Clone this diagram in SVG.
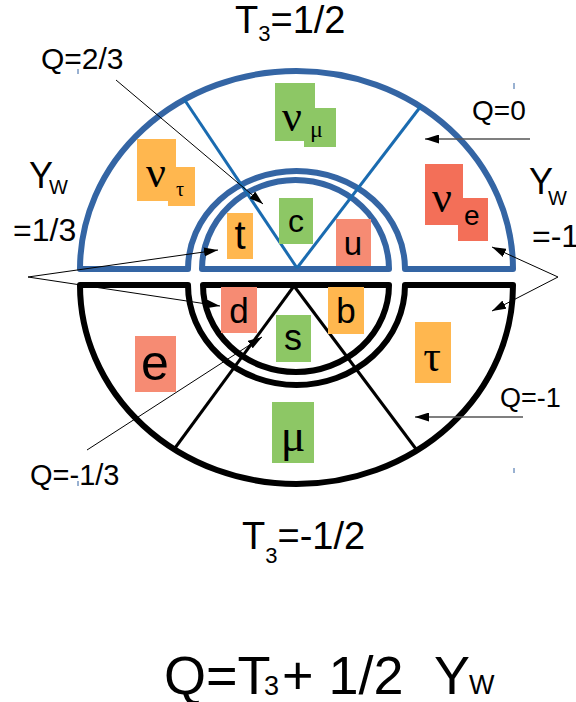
<svg xmlns="http://www.w3.org/2000/svg" width="576" height="702" viewBox="0 0 576 702">
<style>
.sans{font-family:"Liberation Sans",Arial,sans-serif;fill:#000}
.serif{font-family:"Liberation Serif","Times New Roman",serif;fill:#000}
.blue{fill:none;stroke:#3465a4;stroke-width:6;stroke-linejoin:round}
.black{fill:none;stroke:#000;stroke-width:6;stroke-linejoin:round}
.bray{stroke:#1a6bb0;stroke-width:3}
.kray{stroke:#000;stroke-width:3}
.arr{stroke:#000;stroke-width:1;fill:none;marker-end:url(#ah)}
.arrg{stroke:#555;stroke-width:1.6;fill:none;marker-end:url(#ah)}
.g{fill:#8dc765}.o{fill:#ffb74f}.s{fill:#f68b73}.r{fill:#f36f58}
.tick{stroke:#3465a4;stroke-width:1}
</style>
<defs>
<marker id="ah" markerUnits="userSpaceOnUse" markerWidth="15" markerHeight="9" refX="14" refY="4.5" orient="auto">
<path d="M0,0 L14,4.5 L0,9 z" fill="#000"/>
</marker>
</defs>
<rect width="576" height="702" fill="#fff"/>
<g id="upper-ring">
<path class="blue" d="M80,269 A216.5,198 0 0 1 513,269 L405,269 A108.5,98 0 0 0 188,269 Z"/>
</g>
<g id="upper-quarks">
<path class="blue" d="M202,269 A93.5,89 0 0 1 389,269 Z"/>
</g>
<g id="lower-ring">
<path class="black" d="M80,285 A216.5,199 0 0 0 513,285 L405,285 A108.5,100 0 0 1 188,285 Z"/>
</g>
<g id="lower-quarks">
<path class="black" d="M203,285 A93,87 0 0 0 389,285 Z"/>
</g>
<g id="dividers">
<line class="bray" x1="297" y1="268" x2="184" y2="99"/>
<line class="bray" x1="297" y1="268" x2="421" y2="106"/>
<line class="kray" x1="294" y1="286" x2="175" y2="448"/>
<line class="kray" x1="294" y1="286" x2="416" y2="449"/>
</g>
<g id="connectors">
<line class="arr" x1="116" y1="80" x2="263" y2="204"/>
<line class="arr" x1="28" y1="277" x2="218" y2="250"/>
<line class="arr" x1="28" y1="277" x2="220" y2="306"/>
<line class="arr" x1="87" y1="450" x2="262" y2="337"/>
<line class="arrg" x1="530" y1="139" x2="425" y2="139"/>
<line class="arrg" x1="523" y1="417" x2="415" y2="417"/>
<line class="arr" x1="558" y1="277" x2="492" y2="247"/>
<line class="arr" x1="558" y1="277" x2="492" y2="311"/>
</g>
<g id="nu-mu">
<rect class="g" x="275" y="83" width="40" height="58"/>
<rect class="g" x="304" y="108" width="32" height="39"/>
<text class="serif" x="282" y="131" font-size="44">ν</text>
<text class="serif" x="310" y="137" font-size="24">μ</text>
</g>
<g id="nu-tau">
<rect class="o" x="137" y="139" width="39" height="62"/>
<rect class="o" x="168" y="167" width="27" height="39"/>
<text class="serif" x="146" y="187" font-size="44">ν</text>
<text class="serif" x="176" y="196" font-size="20">τ</text>
</g>
<g id="nu-e">
<rect class="r" x="425" y="164" width="38" height="61"/>
<rect class="r" x="458" y="198" width="30" height="43"/>
<text class="serif" x="432" y="212" font-size="44">ν</text>
<text class="sans" x="464" y="225" font-size="28">e</text>
</g>
<g id="q-t">
<rect class="o" x="227" y="213" width="26" height="46"/>
<text class="sans" x="240" y="249" font-size="40" text-anchor="middle">t</text>
</g>
<g id="q-c">
<rect class="g" x="279" y="198" width="34" height="46"/>
<text class="sans" x="296" y="232" font-size="32" text-anchor="middle">c</text>
</g>
<g id="q-u">
<rect class="s" x="336" y="219" width="35" height="47"/>
<text class="sans" x="353" y="255" font-size="33" text-anchor="middle">u</text>
</g>
<g id="q-d">
<rect class="s" x="221" y="287" width="36" height="46"/>
<text class="sans" x="239" y="323" font-size="35" text-anchor="middle">d</text>
</g>
<g id="q-s">
<rect class="g" x="276" y="315" width="35" height="47"/>
<text class="sans" x="293" y="350" font-size="36" text-anchor="middle">s</text>
</g>
<g id="q-b">
<rect class="o" x="328" y="287" width="36" height="47"/>
<text class="sans" x="346" y="323" font-size="35" text-anchor="middle">b</text>
</g>
<g id="l-e">
<rect class="s" x="135" y="336" width="41" height="56"/>
<text class="sans" x="155" y="380" font-size="50" text-anchor="middle">e</text>
</g>
<g id="l-tau">
<rect class="o" x="415" y="322" width="36" height="61"/>
<text class="serif" x="432" y="371" font-size="44" text-anchor="middle">τ</text>
</g>
<g id="l-mu">
<rect class="g" x="272" y="402" width="42" height="61"/>
<text class="serif" x="293" y="451" font-size="46" text-anchor="middle">μ</text>
</g>
<g id="labels">
<text class="sans" x="235" y="33" font-size="38">T<tspan font-size="22" dy="8">3</tspan><tspan dy="-8">=1/2</tspan></text>
<text class="sans" x="242" y="549" font-size="38">T<tspan font-size="22" dy="14">3</tspan><tspan dy="-14">=-1/2</tspan></text>
<text class="sans" x="41" y="69" font-size="30">Q=2/3</text>
<text class="sans" x="472" y="120" font-size="28">Q=0</text>
<text class="sans" x="500" y="407" font-size="27">Q=-1</text>
<text class="sans" x="30" y="485" font-size="29">Q=-1/3</text>
<text class="sans" x="29" y="188" font-size="36">Y</text>
<text class="sans" x="49" y="194" font-size="20">W</text>
<text class="sans" x="13" y="241" font-size="32">=1/3</text>
<text class="sans" x="529" y="194" font-size="36">Y</text>
<text class="sans" x="548" y="205" font-size="20">W</text>
<text class="sans" x="532" y="247" font-size="32">=-1</text>
<text class="sans" y="694" font-size="54"><tspan x="164">Q=T</tspan><tspan x="264" y="695" font-size="27">3</tspan><tspan x="282" y="694">+ 1/2</tspan><tspan x="434">Y</tspan><tspan x="469" font-size="27">W</tspan></text>
</g>
<g id="marks">
<line class="tick" x1="78" y1="69" x2="78" y2="74"/>
<line class="tick" x1="514" y1="83" x2="514" y2="89"/>
<line class="tick" x1="514" y1="468" x2="514" y2="473"/>
<line class="tick" x1="78" y1="481" x2="78" y2="486"/>
</g>
</svg>
